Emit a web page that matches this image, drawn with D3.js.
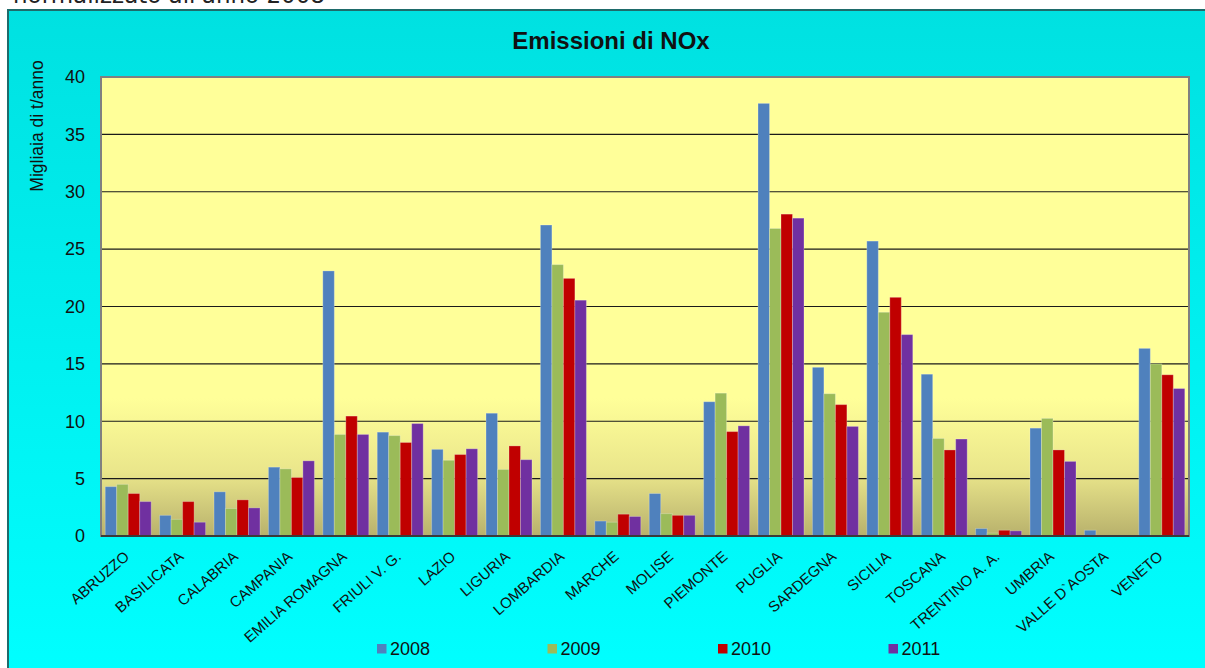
<!DOCTYPE html>
<html>
<head>
<meta charset="utf-8">
<script src="https://cdn.jsdelivr.net/npm/d3@7"></script>
<style>
  body { margin: 0; background: #fff; }
  svg { display: block; }
</style>
</head>
<body>
<svg id="chart"></svg>
<script>
var width = 1205;
var height = 668;

var regions = ['ABRUZZO', 'BASILICATA', 'CALABRIA', 'CAMPANIA', 'EMILIA ROMAGNA', 'FRIULI V. G.',
  'LAZIO', 'LIGURIA', 'LOMBARDIA', 'MARCHE', 'MOLISE', 'PIEMONTE', 'PUGLIA', 'SARDEGNA',
  'SICILIA', 'TOSCANA', 'TRENTINO A. A.', 'UMBRIA', 'VALLE D`AOSTA', 'VENETO'];
var years = ['2008', '2009', '2010', '2011'];
var colors = ['#4F81BD', '#9BBB59', '#C00000', '#7030A0'];

var nox2008 = [4.3, 1.8, 3.85, 6.0, 23.1, 9.05, 7.55, 10.7, 27.1, 1.3, 3.7, 11.7, 37.7, 14.7, 25.7, 14.1, 0.65, 9.4, 0.5, 16.35];
var nox2009 = [4.5, 1.45, 2.4, 5.85, 8.85, 8.75, 6.6, 5.8, 23.65, 1.2, 1.95, 12.45, 26.8, 12.4, 19.5, 8.5, 0.25, 10.25, 0, 15.0];
var nox2010 = [3.7, 3.0, 3.15, 5.1, 10.45, 8.15, 7.1, 7.85, 22.45, 1.9, 1.8, 9.1, 28.05, 11.45, 20.8, 7.5, 0.5, 7.5, 0, 14.05];
var nox2011 = [3.0, 1.2, 2.45, 6.55, 8.85, 9.8, 7.6, 6.65, 20.55, 1.7, 1.8, 9.6, 27.7, 9.55, 17.55, 8.45, 0.45, 6.5, 0, 12.85];
var series = [nox2008, nox2009, nox2010, nox2011];
var yTicks = [0, 5, 10, 15, 20, 25, 30, 35, 40];

var plot = { left: 101, right: 1189, top: 77, bottom: 536 };

var svg = d3.select('#chart')
  .attr('width', width)
  .attr('height', height)
  .style('font-family', 'Arial, "Liberation Sans", sans-serif');

var defs = svg.append('defs');

var bgGrad = defs.append('linearGradient')
  .attr('id', 'bgGrad')
  .attr('x1', 0).attr('y1', 0).attr('x2', 0).attr('y2', 1);
bgGrad.append('stop').attr('offset', 0).attr('stop-color', '#00E1E1');
bgGrad.append('stop').attr('offset', 1).attr('stop-color', '#00FFFF');

var plotGrad = defs.append('linearGradient')
  .attr('id', 'plotGrad')
  .attr('x1', 0).attr('y1', 0).attr('x2', 0).attr('y2', 1);
plotGrad.append('stop').attr('offset', 0).attr('stop-color', '#FFFF99');
plotGrad.append('stop').attr('offset', 0.7).attr('stop-color', '#FFFF99');
plotGrad.append('stop').attr('offset', 0.86).attr('stop-color', '#EAE68B');
plotGrad.append('stop').attr('offset', 1).attr('stop-color', '#B8B16C');

// page background + caption above the chart (cut off by the window, as in the source)
svg.append('rect')
  .attr('width', width)
  .attr('height', height)
  .attr('fill', '#ffffff');

svg.append('text')
  .attr('x', 13)
  .attr('y', 2.5)
  .style('font-family', '"DejaVu Sans", Verdana, sans-serif')
  .style('font-size', '23px')
  .attr('fill', '#222')
  .text("normalizzato all'anno 2008");

// chart area
svg.append('rect')
  .attr('x', 8)
  .attr('y', 10)
  .attr('width', width)
  .attr('height', height)
  .attr('fill', 'url(#bgGrad)')
  .attr('stroke', '#1E6B6B')
  .attr('stroke-width', 2);

svg.append('rect')
  .attr('x', plot.left)
  .attr('y', plot.top)
  .attr('width', plot.right - plot.left)
  .attr('height', plot.bottom - plot.top)
  .attr('fill', 'url(#plotGrad)');

var x0 = d3.scaleBand()
  .domain(regions)
  .range([plot.left, plot.right])
  .paddingInner(0.155)
  .paddingOuter(0.0775);

var x1 = d3.scaleBand()
  .domain(years)
  .range([0, x0.bandwidth()]);

var yScale = d3.scaleLinear()
  .domain([0, 40])
  .range([plot.bottom, plot.top]);

// gridlines
svg.append('g')
  .selectAll('line')
  .data(yTicks.filter(d => d > 0 && d < 40))
  .enter()
  .append('line')
  .attr('x1', plot.left)
  .attr('x2', plot.right)
  .attr('y1', d => yScale(d))
  .attr('y2', d => yScale(d))
  .attr('stroke', '#1a1a1a')
  .attr('stroke-width', 1.2);

// bars
var groups = svg.append('g')
  .selectAll('g')
  .data(series)
  .enter()
  .append('g')
  .attr('fill', (d, i) => colors[i]);

groups.selectAll('rect')
  .data((d, i) => d.map((v, j) => ({ region: regions[j], year: years[i], value: v })))
  .enter()
  .append('rect')
  .attr('x', d => x0(d.region) + x1(d.year))
  .attr('y', d => yScale(d.value))
  .attr('width', x1.bandwidth())
  .attr('height', d => plot.bottom - yScale(d.value))
  .attr('stroke', '#ffffff')
  .attr('stroke-opacity', 0.25)
  .attr('stroke-width', 1);

// plot frame
svg.append('rect')
  .attr('x', plot.left)
  .attr('y', plot.top)
  .attr('width', plot.right - plot.left)
  .attr('height', plot.bottom - plot.top)
  .attr('fill', 'none')
  .attr('stroke', '#808080')
  .attr('stroke-width', 2);

svg.append('line')
  .attr('x1', plot.left)
  .attr('x2', plot.right)
  .attr('y1', plot.bottom)
  .attr('y2', plot.bottom)
  .attr('stroke', '#3a3a3a')
  .attr('stroke-width', 2);

// y axis
var yAxis = svg.append('g')
  .attr('transform', 'translate(' + plot.left + ',0)')
  .call(d3.axisLeft(yScale).tickValues(yTicks).tickSize(0).tickPadding(16));
yAxis.select('.domain').remove();
yAxis.selectAll('text')
  .style('font-family', 'Arial, "Liberation Sans", sans-serif')
  .style('font-size', '18px')
  .attr('fill', '#111');

// x labels
svg.append('g')
  .selectAll('text')
  .data(regions)
  .enter()
  .append('text')
  .attr('transform', d => 'translate(' + (x0(d) + x0.bandwidth() / 2 + 2) + ',' + 558 + ') rotate(-41)')
  .style('text-anchor', 'end')
  .style('font-size', '15px')
  .attr('fill', '#111')
  .text(d => d);

// title
svg.append('text')
  .attr('x', 611)
  .attr('y', 49)
  .style('text-anchor', 'middle')
  .style('font-size', '24px')
  .style('font-weight', 'bold')
  .attr('fill', '#111')
  .text('Emissioni di NOx');

svg.append('text')
  .attr('transform', 'rotate(-90)')
  .attr('x', -126)
  .attr('y', 43)
  .style('text-anchor', 'middle')
  .style('font-size', '17.5px')
  .attr('fill', '#111')
  .text('Migliaia di t/anno');

// legend
var legend = svg.append('g')
  .selectAll('g')
  .data(years)
  .enter()
  .append('g')
  .attr('transform', (d, i) => 'translate(' + (377 + i * 170.5) + ',644)');

legend.append('rect')
  .attr('width', 9.5)
  .attr('height', 9.5)
  .attr('fill', (d, i) => colors[i]);

legend.append('text')
  .attr('x', 13)
  .attr('y', 11)
  .style('font-size', '18px')
  .attr('fill', '#111')
  .text(d => d);
</script>
</body>
</html>
